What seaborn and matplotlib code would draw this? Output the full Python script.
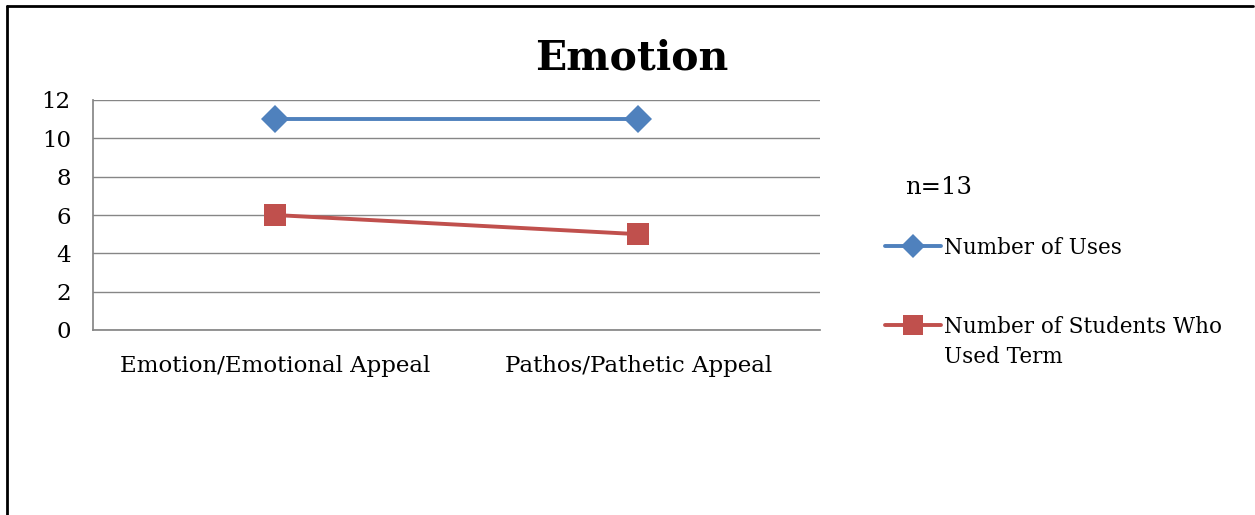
import pandas as pd
import numpy as np
import matplotlib.pyplot as plt
import seaborn as sns
from matplotlib.lines import Line2D

# data
categorias = ["Emotion/Emotional Appeal", "Pathos/Pathetic Appeal"]
numero_usos = [11, 11]
numero_alunos = [6, 5]
series = ["Number of Uses", "Number of Students Who\nUsed Term"]
yticks = [0, 2, 4, 6, 8, 10, 12]

df = pd.DataFrame({
    "pos": list(range(len(categorias))) * 2,
    "valor": numero_usos + numero_alunos,
    "serie": [series[0]] * len(categorias) + [series[1]] * len(categorias),
})

sns.set_theme(style="white")
plt.rcParams["font.family"] = ["DejaVu Serif"]
plt.rcParams["text.color"] = "black"

fig = plt.figure(figsize=(12.55, 5.15), dpi=100)
ax = fig.add_axes([93 / 1255, 1 - 330 / 515, (820 - 93) / 1255, 230 / 515])

cores = {series[0]: "#4F81BD", series[1]: "#C0504D"}
marcadores = {series[0]: "D", series[1]: "s"}
sns.lineplot(data=df, x="pos", y="valor", hue="serie", style="serie",
             palette=cores, markers=marcadores,
             dashes=False, linewidth=2.8, markersize=14, markeredgewidth=0,
             ax=ax, legend=False)
# square marker a bit bigger, like in the original
ax.lines[1].set_markersize(15.5)

ax.set_xlim(-0.5, len(categorias) - 0.5)
ax.set_ylim(0, 12)
ax.set_yticks(yticks)
ax.set_xticks(range(len(categorias)))
ax.set_xticklabels(categorias, fontsize=16.5)
ax.set_xticks(np.arange(-0.5, len(categorias), 1), minor=True)
ax.tick_params(axis="x", which="major", length=0, pad=18, labelcolor="black")
ax.tick_params(axis="x", which="minor", length=6, color="#868686", width=1)
ax.tick_params(axis="y", length=6, color="#868686", width=1, labelsize=16.5,
               pad=10, labelcolor="black")
ax.grid(axis="y", color="#868686", linewidth=1)
ax.set_xlabel("")
ax.set_ylabel("")
for lado in ["top", "right"]:
    ax.spines[lado].set_visible(False)
ax.spines["left"].set_color("#868686")
ax.spines["bottom"].set_color("#868686")

fig.text(632 / 1255, 1 - 58 / 515, "Emotion", ha="center", va="center",
         fontsize=29.5, fontweight="bold")
fig.text(905 / 1255, 1 - 187 / 515, "n=13", ha="left", va="center", fontsize=17.5)

# legend: handle lines up with the first line of the label, like Excel does
rotulos = [s.split("\n") for s in series]
handles = [Line2D([], [], color=cores[s], marker=marcadores[s], linewidth=2.8,
                  markersize=12 if marcadores[s] == "D" else 14, markeredgewidth=0)
           for s in series]
leg = fig.legend(handles, [r[0] for r in rotulos], loc="upper left",
                 bbox_to_anchor=(874 / 1255, 1 - 226 / 515), frameon=False,
                 fontsize=15.5, handlelength=2.6, handletextpad=0.15,
                 labelspacing=2.65, borderpad=0)
fig.canvas.draw()
bb = leg.get_texts()[1].get_window_extent()
fig.text(bb.x0 / 1255, (bb.y0 - 8) / 515, rotulos[1][1], ha="left", va="top",
         fontsize=15.5)

# frame of the picture
fig.add_artist(Line2D([7 / 1255, 7 / 1255], [0, 1 - 6 / 515], color="black", linewidth=2))
fig.add_artist(Line2D([7 / 1255, 1253 / 1255], [1 - 6 / 515, 1 - 6 / 515], color="black", linewidth=2))

plt.savefig("out.png", dpi=100)
